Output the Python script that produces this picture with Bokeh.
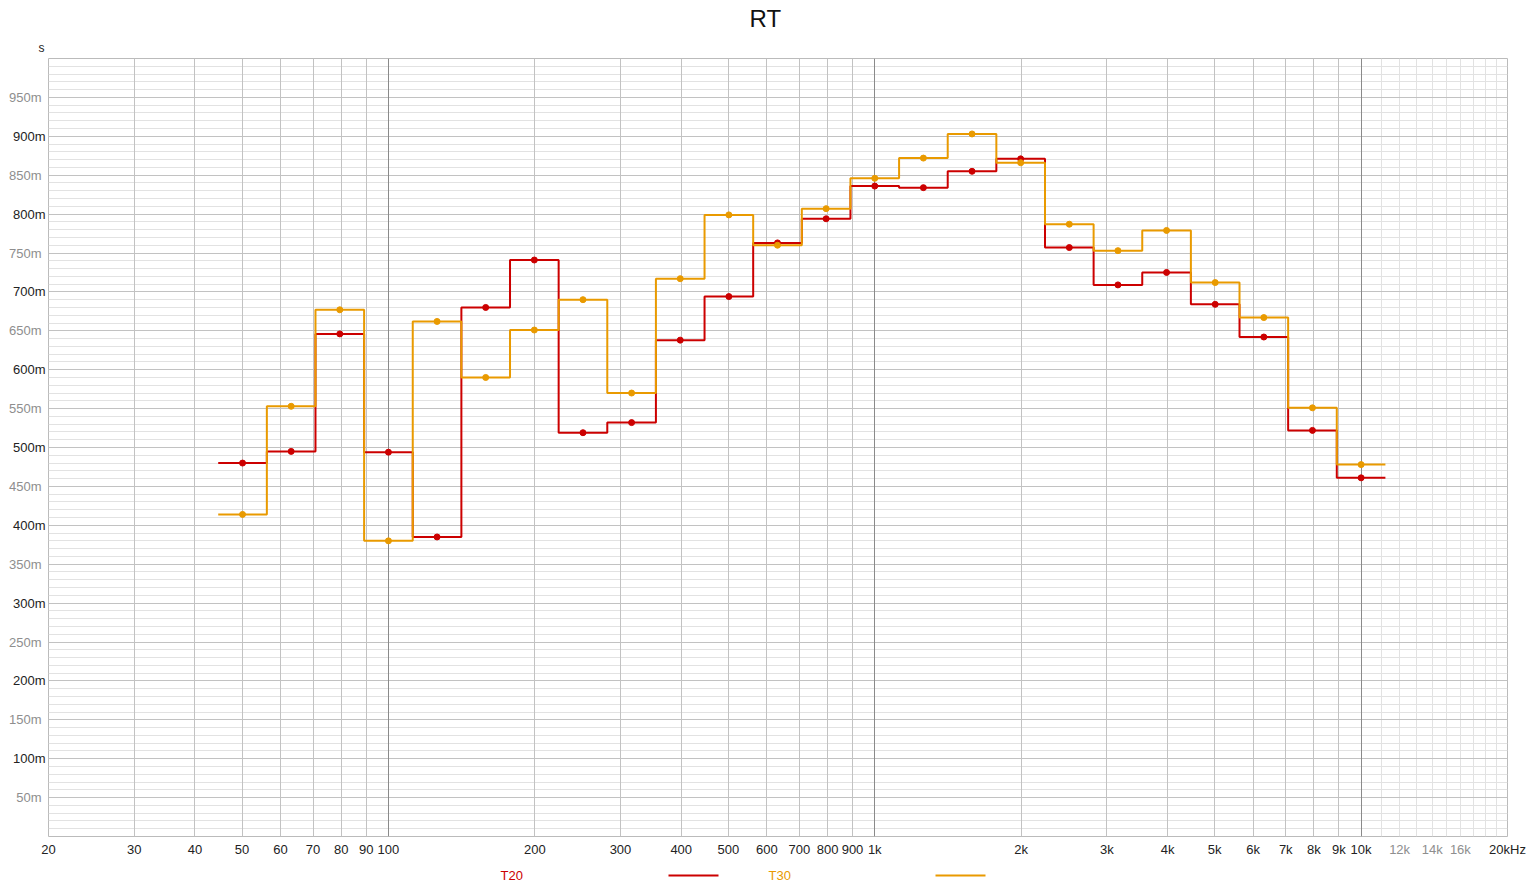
from bokeh.plotting import figure
from bokeh.models import FixedTicker, Grid, Title, LinearAxis, LogAxis
from bokeh.layouts import column
from bokeh.core.properties import value
from bokeh.embed import file_html
from bokeh.resources import INLINE
import numpy as np

# 1/3-octave band centre frequencies (Hz, nominal)
freqs = [50, 63, 80, 100, 125, 160, 200, 250, 315, 400, 500, 630, 800,
         1000, 1250, 1600, 2000, 2500, 3150, 4000, 5000, 6300, 8000, 10000]
# Reverberation times (seconds)
t20 = [0.480, 0.495, 0.646, 0.494, 0.385, 0.680, 0.741, 0.519, 0.532, 0.638,
       0.694, 0.763, 0.794, 0.836, 0.834, 0.855, 0.871, 0.757, 0.709, 0.725,
       0.684, 0.642, 0.522, 0.461]
t30 = [0.414, 0.553, 0.677, 0.380, 0.662, 0.590, 0.651, 0.690, 0.570, 0.717,
       0.799, 0.760, 0.807, 0.846, 0.872, 0.903, 0.866, 0.787, 0.753, 0.779,
       0.712, 0.667, 0.551, 0.478]

x_ticks_black = [20, 30, 40, 50, 60, 70, 80, 90, 100, 200, 300, 400, 500, 600, 700,
                 800, 900, 1000, 2000, 3000, 4000, 5000, 6000, 7000, 8000, 9000,
                 10000, 20000]
x_labels_black = ["20", "30", "40", "50", "60", "70", "80", "90", "100", "200", "300",
                  "400", "500", "600", "700", "800", "900", "1k", "2k", "3k", "4k",
                  "5k", "6k", "7k", "8k", "9k", "10k", "20kHz"]
x_ticks_gray = [12000, 14000, 16000]
x_labels_gray = ["12k", "14k", "16k"]
y_ticks_black = [100, 200, 300, 400, 500, 600, 700, 800, 900]
y_ticks_gray = [50, 150, 250, 350, 450, 550, 650, 750, 850, 950]

RED = "#cc0000"
ORANGE = "#e99a00"
FONT = "Liberation Sans"
FS = "13px"
GRAY_TXT = "#8e8e8e"

# exact band centres / edges derived from nominal frequencies
n = np.round(10 * np.log10(freqs))
centres = 10 ** (n / 10)
lo = 10 ** ((n - 0.5) / 10)
hi = 10 ** ((n + 0.5) / 10)


def step_xy(vals_s):
    xs, ys = [], []
    for a, b, v in zip(lo, hi, vals_s):
        xs += [a, b]
        ys += [v * 1000, v * 1000]
    return xs, ys


p = figure(width=1532, height=860, x_axis_type="log", x_range=(20, 20000),
           y_range=(0, 1000), output_backend="svg", toolbar_location=None,
           min_border_left=48, min_border_right=25, min_border_top=58,
           min_border_bottom=24)
p.xgrid.visible = False
p.ygrid.visible = False
p.outline_line_color = "#bbbbbb"

# grids
y_minor = [v for v in range(10, 1000, 10) if v % 50 != 0]
x_minor = [11000, 12000, 13000, 14000, 15000, 16000, 17000, 18000, 19000]
x_mid = [m * d for d in (10, 100, 1000) for m in range(2, 10) if m * d >= 30]
x_dec = [100, 1000, 10000]
p.add_layout(Grid(dimension=1, ticker=FixedTicker(ticks=y_minor), grid_line_color="#e2e2e2"))
p.add_layout(Grid(dimension=0, ticker=FixedTicker(ticks=x_minor), grid_line_color="#e2e2e2"))
p.add_layout(Grid(dimension=1, ticker=FixedTicker(ticks=y_ticks_gray + y_ticks_black),
                  grid_line_color="#c2c2c2"))
p.add_layout(Grid(dimension=0, ticker=FixedTicker(ticks=x_mid), grid_line_color="#c2c2c2"))
p.add_layout(Grid(dimension=0, ticker=FixedTicker(ticks=x_dec), grid_line_color="#8a8a8a"))


def style_axis(ax, color):
    ax.axis_line_color = None
    ax.major_tick_line_color = None
    ax.minor_tick_line_color = None
    ax.major_tick_out = 0
    ax.major_tick_in = 0
    ax.minor_tick_out = 0
    ax.minor_tick_in = 0
    ax.major_label_text_font = FONT
    ax.major_label_text_font_size = FS
    ax.major_label_text_color = color


style_axis(p.xaxis[0], "#222222")
style_axis(p.yaxis[0], "#222222")
p.xaxis.ticker = FixedTicker(ticks=x_ticks_black)
p.xaxis.major_label_overrides = {t: l for t, l in zip(x_ticks_black, x_labels_black)}
p.xaxis.major_label_standoff = 5
p.yaxis.ticker = FixedTicker(ticks=y_ticks_black)
p.yaxis.major_label_overrides = {t: f"{t}m" for t in y_ticks_black}
p.yaxis.major_label_standoff = 3

# gray tick labels: outer axes pulled back into the same row by negative standoff
gx = LogAxis(ticker=FixedTicker(ticks=x_ticks_gray),
             major_label_overrides={t: l for t, l in zip(x_ticks_gray, x_labels_gray)},
             major_label_standoff=-18)
style_axis(gx, GRAY_TXT)
p.add_layout(gx, "below")
gy = LinearAxis(ticker=FixedTicker(ticks=y_ticks_gray),
                major_label_overrides={t: f"{t}m" for t in y_ticks_gray},
                major_label_standoff=-32)
style_axis(gy, GRAY_TXT)
p.add_layout(gy, "left")

# titles
p.add_layout(Title(text="s", align="left", offset=-10, text_font=FONT,
                   text_font_size="12px", text_font_style="normal",
                   text_color="#222222", standoff=8), "above")
p.add_layout(Title(text="RT", align="left", offset=701, text_font=FONT,
                   text_font_size="24px", text_font_style="normal",
                   text_color="#111111", standoff=5), "above")

# data
xs, ys = step_xy(t20)
p.line(xs, ys, color=RED, line_width=2)
p.scatter(centres, [v * 1000 for v in t20], size=6, color=RED)
xs, ys = step_xy(t30)
p.line(xs, ys, color=ORANGE, line_width=2)
p.scatter(centres, [v * 1000 for v in t30], size=6, color=ORANGE)

# legend strip (frame aligned with the main frame: x in page pixels)
lg = figure(width=1532, height=28, x_range=(48, 1507), y_range=(0, 28),
            output_backend="svg", toolbar_location=None, min_border=0,
            x_axis_location=None, y_axis_location=None)
lg.xgrid.visible = False
lg.ygrid.visible = False
lg.outline_line_color = None
lg.text(x=[500], y=[13], text=["T20"], text_color=RED, text_font=value(FONT),
        text_font_size=FS, text_baseline="middle", text_align="left")
lg.segment(x0=[668], y0=[13], x1=[718], y1=[13], line_color=RED, line_width=2)
lg.text(x=[768], y=[13], text=["T30"], text_color=ORANGE, text_font=value(FONT),
        text_font_size=FS, text_baseline="middle", text_align="left")
lg.segment(x0=[935], y0=[13], x1=[985], y1=[13], line_color=ORANGE, line_width=2)

layout = column(p, lg, spacing=0)
open("out.html", "w").write(file_html(layout, INLINE))
